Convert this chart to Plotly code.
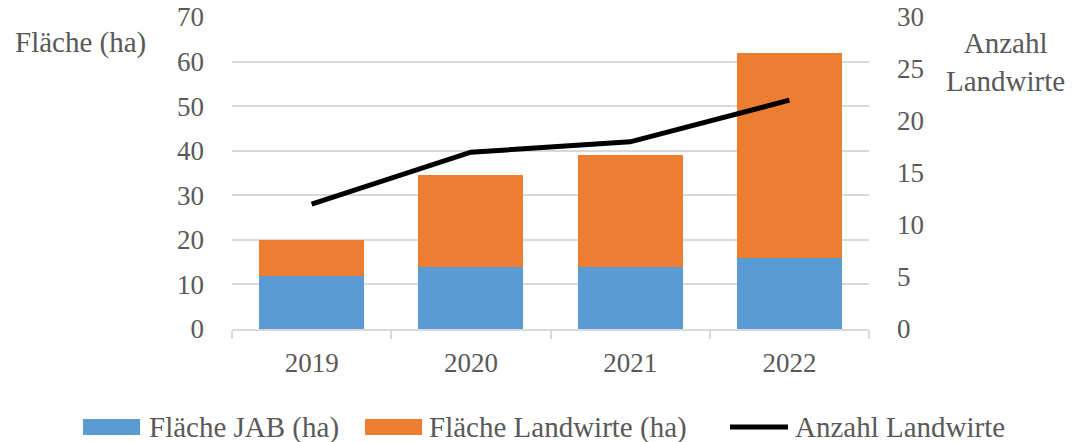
import plotly.graph_objects as go

years = ["2019", "2020", "2021", "2022"]
flaeche_jab = [12, 14, 14, 16]
flaeche_landwirte = [8, 20.5, 25, 46]
anzahl_landwirte = [12, 17, 18, 22]

FONT = "Liberation Serif"
GRAY = "#595959"

L, R, T, B = 232, 869, 17, 329
W, H = 1073, 442
PW, PH = R - L, B - T


def px(x):
    return (x - L) / PW


def py(y):
    return (B - y) / PH


fig = go.Figure()
fig.add_trace(go.Bar(x=years, y=flaeche_jab, name="Fläche JAB (ha)",
                     marker=dict(color="#5b9bd5", line=dict(width=0))))
fig.add_trace(go.Bar(x=years, y=flaeche_landwirte, name="Fläche Landwirte (ha)",
                     marker=dict(color="#ed7d31", line=dict(width=0))))
fig.add_trace(go.Scatter(x=years, y=anzahl_landwirte, name="Anzahl Landwirte",
                         mode="lines", line=dict(color="black", width=5), yaxis="y2"))

tfont = dict(size=27, color=GRAY, family=FONT)
font = dict(size=29, color=GRAY, family=FONT)

shapes = [
    dict(type="rect", xref="paper", yref="paper", x0=px(83), x1=px(140), y0=py(435), y1=py(419),
         fillcolor="#5b9bd5", line=dict(width=0)),
    dict(type="rect", xref="paper", yref="paper", x0=px(365), x1=px(422), y0=py(435), y1=py(419),
         fillcolor="#ed7d31", line=dict(width=0)),
    dict(type="line", xref="paper", yref="paper", x0=px(730), x1=px(788), y0=py(427), y1=py(427),
         line=dict(color="black", width=5)),
]

annotations = [
    dict(text="Fläche (ha)", xref="paper", yref="paper", x=px(80), y=py(42),
         xanchor="center", yanchor="middle", showarrow=False, font=font),
    dict(text="Anzahl<br>Landwirte", xref="paper", yref="paper", x=px(1005), y=py(62),
         xanchor="center", yanchor="middle", showarrow=False, font=font),
    dict(text="Fläche JAB (ha)", xref="paper", yref="paper", x=px(147), y=py(427),
         xanchor="left", yanchor="middle", showarrow=False, font=font),
    dict(text="Fläche Landwirte (ha)", xref="paper", yref="paper", x=px(427), y=py(427),
         xanchor="left", yanchor="middle", showarrow=False, font=font),
    dict(text="Anzahl Landwirte", xref="paper", yref="paper", x=px(793), y=py(427),
         xanchor="left", yanchor="middle", showarrow=False, font=font),
]

fig.update_layout(
    width=W, height=H,
    margin=dict(l=L, r=W - R, t=T, b=H - B, autoexpand=False),
    paper_bgcolor="white", plot_bgcolor="white",
    barmode="stack", bargap=0.34, showlegend=False,
    font=font,
    xaxis=dict(showline=True, linecolor="#d9d9d9", linewidth=2,
               ticks="outside", ticklen=8, tickcolor="#d9d9d9", tickwidth=2,
               tickson="boundaries", showgrid=False, ticklabelstandoff=9,
               automargin=False, tickfont=tfont),
    yaxis=dict(range=[0, 70], dtick=10, showgrid=True, gridcolor="#d9d9d9", gridwidth=2,
               zeroline=False, showline=False, ticklabelstandoff=27,
               automargin=False, tickfont=tfont),
    yaxis2=dict(range=[0, 30], dtick=5, overlaying="y", side="right", showgrid=False,
                zeroline=False, showline=False, ticklabelstandoff=27,
                automargin=False, tickfont=tfont),
    shapes=shapes,
    annotations=annotations,
)

fig.write_html("out.html", config={"displayModeBar": False},
               post_script="document.body.style.margin='0';document.body.style.padding='0';")
